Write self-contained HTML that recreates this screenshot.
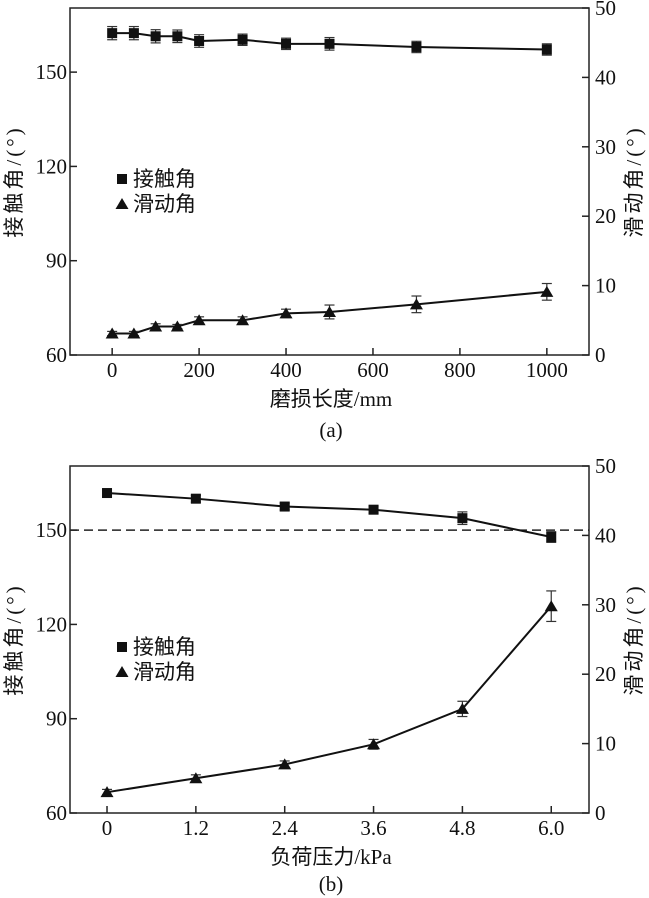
<!DOCTYPE html>
<html><head><meta charset="utf-8">
<style>
html,body{margin:0;padding:0;background:#fff;}
svg{display:block;}
text{font-family:"Liberation Serif","Noto Serif CJK SC","Noto Sans CJK SC",serif;fill:#111;}
.cjk{font-family:"Liberation Serif","Noto Sans CJK SC",sans-serif;}
</style></head>
<body>
<svg id="fig" width="649" height="898" viewBox="0 0 649 898" xmlns="http://www.w3.org/2000/svg"></svg>
<script>
// Panel (a) data
const aX = [0,50,100,150,200,300,400,500,700,1000];
const aCA = [162.4,162.4,161.4,161.4,159.9,160.3,159.0,159.0,158.0,157.2];
const aCAerr = [2.1,2.1,2.1,2.0,2.0,1.8,1.8,2.0,1.8,1.8];
const aSA = [3.1,3.1,4.1,4.1,5.0,5.0,6.0,6.2,7.3,9.1];
const aSAerr = [0.3,0.3,0.4,0.3,0.5,0.5,0.6,1.0,1.2,1.2];
const aXTicks = [0,200,400,600,800,1000];
// Panel (b) data
const bX = [0,1.2,2.4,3.6,4.8,6.0];
const bXTickLabels = ["0","1.2","2.4","3.6","4.8","6.0"];
const bCA = [161.8,160.0,157.5,156.5,153.8,147.8];
const bCAerr = [1.0,1.1,1.1,1.1,2.0,1.7];
const bSA = [3.0,5.0,7.0,9.9,15.0,29.8];
const bSAerr = [0.4,0.5,0.5,0.7,1.1,2.2];
const leftTicks = [60,90,120,150];
const rightTicks = [0,10,20,30,40,50];

const NS="http://www.w3.org/2000/svg";
const svg=document.getElementById('fig');
function mk(tag,attrs,parent){const e=document.createElementNS(NS,tag);for(const k in attrs)e.setAttribute(k,attrs[k]);(parent||svg).appendChild(e);return e;}

function panel(cfg){
  const g=mk('g',{});
  
  
  const L=70,R=589,T=cfg.top,B=cfg.bottom;
  const xs=v=>L+(v-cfg.xmin)/(cfg.xmax-cfg.xmin)*(R-L);
  const yl=v=>B-(v-60)/(170.4-60)*(B-T);
  const yr=v=>B-v/50*(B-T);
  const box=mk('rect',{x:L,y:T,width:R-L,height:B-T,fill:'none',stroke:'#222','stroke-width':1.5},g);
  
  
  leftTicks.forEach(v=>{
    mk('line',{x1:L,x2:L+7,y1:yl(v),y2:yl(v),stroke:'#222','stroke-width':1.5},g);
    const t=mk('text',{x:L-3,y:yl(v)+7,'text-anchor':'end','font-size':21},g);t.textContent=v;
    
    
  });
  rightTicks.forEach(v=>{
    mk('line',{x1:R-7,x2:R,y1:yr(v),y2:yr(v),stroke:'#222','stroke-width':1.5},g);
    const t=mk('text',{x:R+6,y:yr(v)+7,'font-size':21},g);t.textContent=v;
    
    
  });
  cfg.ticks.forEach((v,i)=>{
    mk('line',{x1:xs(v),x2:xs(v),y1:B,y2:B-7,stroke:'#222','stroke-width':1.5},g);
    const t=mk('text',{x:xs(v),y:B+22,'text-anchor':'middle','font-size':21},g);t.textContent=cfg.tickLabels[i];
    
    
  });
  if(cfg.dash){
    const d=mk('line',{x1:L,x2:R,y1:yl(150),y2:yl(150),stroke:'#222','stroke-width':1.5,'stroke-dasharray':'9,5'},g);
    
    
  }
  function series(xv,yv,ev,sc,shape,nm){
    const p=mk('polyline',{points:xv.map((x,i)=>xs(x)+','+sc(yv[i])).join(' '),fill:'none',stroke:'#111','stroke-width':2},g);
    
    
    xv.forEach((x,i)=>{
      const cx=xs(x),cy=sc(yv[i]),y1=sc(yv[i]+ev[i]),y2=sc(yv[i]-ev[i]);
      mk('line',{x1:cx,x2:cx,y1:y1,y2:y2,stroke:'#333','stroke-width':1.2},g);
      mk('line',{x1:cx-5,x2:cx+5,y1:y1,y2:y1,stroke:'#333','stroke-width':1.2},g);
      mk('line',{x1:cx-5,x2:cx+5,y1:y2,y2:y2,stroke:'#333','stroke-width':1.2},g);
      let m;
      if(shape==='sq') m=mk('rect',{x:cx-5,y:cy-5,width:10,height:10,fill:'#111'},g);
      else m=mk('polygon',{points:`${cx},${cy-6} ${cx-6.5},${cy+5} ${cx+6.5},${cy+5}`,fill:'#111'},g);
      
      
    });
  }
  series(cfg.x,cfg.ca,cfg.caErr,yl,'sq','contact-angle');
  series(cfg.x,cfg.sa,cfg.saErr,yr,'tri','sliding-angle');
  const ly=cfg.legendY;
  const ls=mk('rect',{x:117,y:ly-5,width:10,height:10,fill:'#111'},g);
  
  
  let t=mk('text',{x:133,y:ly+7,'font-size':21,'class':'cjk'},g);t.textContent='接触角';
  
  
  const ly2=ly+25;
  const lt=mk('polygon',{points:`122,${ly2-6} 115.5,${ly2+5} 128.5,${ly2+5}`,fill:'#111'},g);
  
  
  t=mk('text',{x:133,y:ly2+7,'font-size':21,'class':'cjk'},g);t.textContent='滑动角';
  
  
  const cy=(T+B)/2;
  t=mk('text',{x:0,y:0,'font-size':21,'letter-spacing':3,'text-anchor':'middle','class':'cjk',transform:`translate(21,${cy}) rotate(-90)`},g);t.textContent='接触角/(°)';
  
  
  t=mk('text',{x:0,y:0,'font-size':21,'letter-spacing':3,'text-anchor':'middle','class':'cjk',transform:`translate(641,${cy}) rotate(-90)`},g);t.textContent='滑动角/(°)';
  
  
  t=mk('text',{x:331,y:B+51,'font-size':21,'text-anchor':'middle','class':'cjk'},g);t.textContent=cfg.xTitle;
  
  
  t=mk('text',{x:331,y:cfg.capY,'font-size':21,'text-anchor':'middle'},g);t.textContent=cfg.cap;
  
  
}
panel({name:'panel-a',top:8,bottom:355,xmin:-97,xmax:1097,ticks:aXTicks,tickLabels:aXTicks.map(String),
  x:aX,ca:aCA,caErr:aCAerr,sa:aSA,saErr:aSAerr,legendY:179,xTitle:'磨损长度/mm',cap:'(a)',capY:437,dash:false});
panel({name:'panel-b',top:466,bottom:813,xmin:-0.5,xmax:6.51,ticks:bX,tickLabels:bXTickLabels,
  x:bX,ca:bCA,caErr:bCAerr,sa:bSA,saErr:bSAerr,legendY:647,xTitle:'负荷压力/kPa',cap:'(b)',capY:891,dash:true});
</script>
</body></html>
